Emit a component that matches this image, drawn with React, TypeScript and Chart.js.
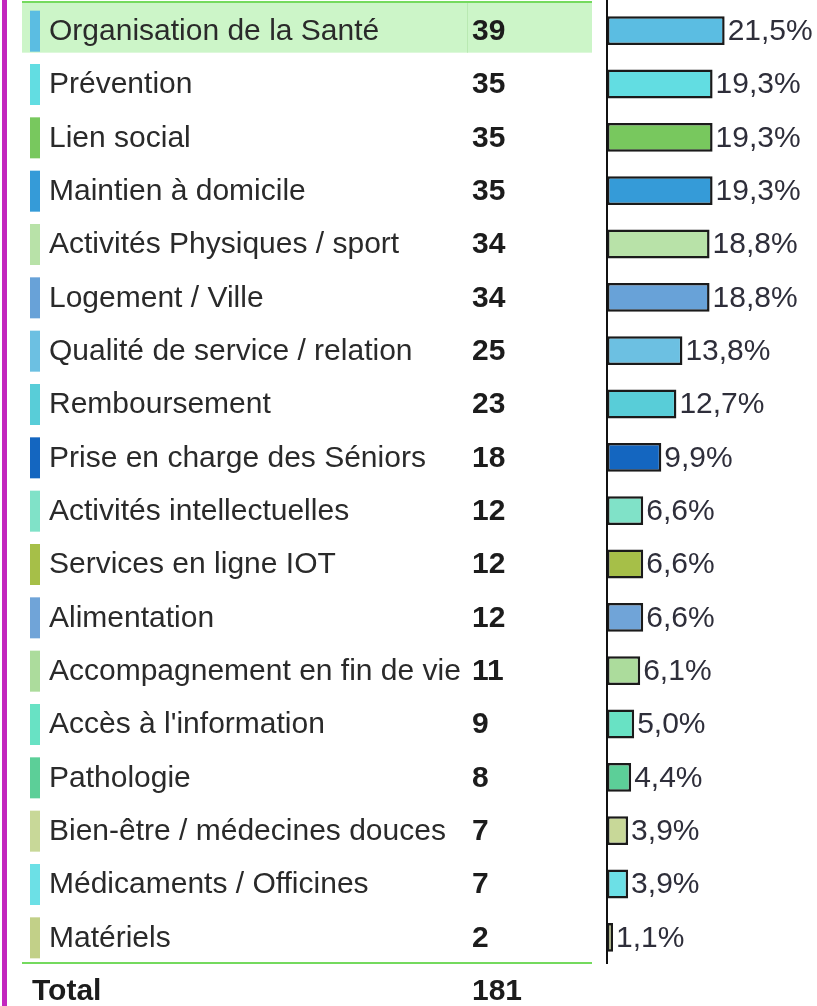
import { useEffect, useRef } from "react";
import { Chart, registerables } from "chart.js";

Chart.register(...registerables);

const categories = [
  "Organisation de la Santé",
  "Prévention",
  "Lien social",
  "Maintien à domicile",
  "Activités Physiques / sport",
  "Logement / Ville",
  "Qualité de service / relation",
  "Remboursement",
  "Prise en charge des Séniors",
  "Activités intellectuelles",
  "Services en ligne IOT",
  "Alimentation",
  "Accompagnement en fin de vie",
  "Accès à l'information",
  "Pathologie",
  "Bien-être / médecines douces",
  "Médicaments / Officines",
  "Matériels",
];

const counts = [39, 35, 35, 35, 34, 34, 25, 23, 18, 12, 12, 12, 11, 9, 8, 7, 7, 2];

const percentLabels = [
  "21,5%", "19,3%", "19,3%", "19,3%", "18,8%", "18,8%", "13,8%", "12,7%", "9,9%",
  "6,6%", "6,6%", "6,6%", "6,1%", "5,0%", "4,4%", "3,9%", "3,9%", "1,1%",
];

const colors = [
  "#5bbde2", "#62dde2", "#78c85e", "#359bd8", "#b8e2a8", "#68a2d8",
  "#6cc0e2", "#58cdd8", "#1466c0", "#80e2c8", "#a6bf48", "#70a4d8",
  "#acdc9c", "#68e2c4", "#5ccf98", "#c8d898", "#6ce0e6", "#c2d088",
];

const totalLabel = "Total";
const totalCount = "181";

const FONT = "'Liberation Sans', Arial, sans-serif";

export default function App() {
  const ref = useRef<HTMLCanvasElement>(null);

  useEffect(() => {
    document.body.style.margin = "0";
    const canvas = ref.current;
    if (!canvas) return;

    const tablePlugin = {
      id: "tablePlugin",
      beforeDatasetsDraw(chart: any) {
        const ctx = chart.ctx as CanvasRenderingContext2D;
        const yScale = chart.scales.y;
        const ca = chart.chartArea;
        ctx.save();
        // purple left border
        ctx.fillStyle = "#c326be";
        ctx.fillRect(2, 0, 5, chart.height);
        // highlighted first row
        const y0 = yScale.getPixelForValue(0);
        ctx.fillStyle = "#ccf5c8";
        ctx.fillRect(22, y0 - 28, 570, 50);
        ctx.fillStyle = "#b9e9b2";
        ctx.fillRect(467, y0 - 28, 1, 50);
        // green top and bottom rules
        ctx.fillStyle = "#74da5e";
        ctx.fillRect(22, 1, 570, 2);
        ctx.fillRect(22, ca.bottom - 2, 570, 2);

        ctx.textBaseline = "middle";
        categories.forEach((cat, i) => {
          const yc = yScale.getPixelForValue(i);
          ctx.fillStyle = colors[i];
          ctx.fillRect(30, yc - 20, 10, 41);
          ctx.fillStyle = "#2a2a2a";
          ctx.font = `30px ${FONT}`;
          ctx.textAlign = "left";
          ctx.fillText(cat, 49, yc + 1);
          ctx.fillStyle = "#1c1c1c";
          ctx.font = `bold 30px ${FONT}`;
          ctx.fillText(String(counts[i]), 472, yc + 1);
        });
        // total row
        ctx.fillStyle = "#1c1c1c";
        ctx.font = `bold 30px ${FONT}`;
        ctx.fillText(totalLabel, 32, 992);
        ctx.fillText(totalCount, 472, 992);
        ctx.restore();
      },
      afterDatasetsDraw(chart: any) {
        const ctx = chart.ctx as CanvasRenderingContext2D;
        const ca = chart.chartArea;
        const meta = chart.getDatasetMeta(0);
        ctx.save();
        // vertical axis line
        ctx.fillStyle = "#111";
        ctx.fillRect(ca.left - 1, 0, 2, ca.bottom);
        ctx.fillStyle = "#2e2e3a";
        ctx.font = `30px ${FONT}`;
        ctx.textBaseline = "middle";
        ctx.textAlign = "left";
        meta.data.forEach((bar: any, i: number) => {
          ctx.fillText(percentLabels[i], bar.x + 3, bar.y + 1);
        });
        ctx.restore();
      },
    };

    const chart = new Chart(canvas, {
      type: "bar",
      data: {
        labels: categories,
        datasets: [
          {
            data: counts,
            backgroundColor: colors,
            borderColor: "#1a1a1a",
            borderWidth: 2.5,
            borderSkipped: false,
            barPercentage: 0.54,
            categoryPercentage: 1,
          },
        ],
      },
      options: {
        indexAxis: "y",
        responsive: false,
        animation: false,
        devicePixelRatio: 1,
        layout: { padding: { left: 607, right: 29, top: 4, bottom: 42 } },
        plugins: { legend: { display: false }, tooltip: { enabled: false } },
        scales: {
          x: { display: false, min: 0, max: 60 },
          y: { display: false, type: "category", offset: true },
        },
      },
      plugins: [tablePlugin],
    });

    return () => chart.destroy();
  }, []);

  return (
    <div style={{ width: 817, height: 1006, background: "#fff" }}>
      <canvas ref={ref} width={817} height={1006} style={{ display: "block" }} />
    </div>
  );
}
